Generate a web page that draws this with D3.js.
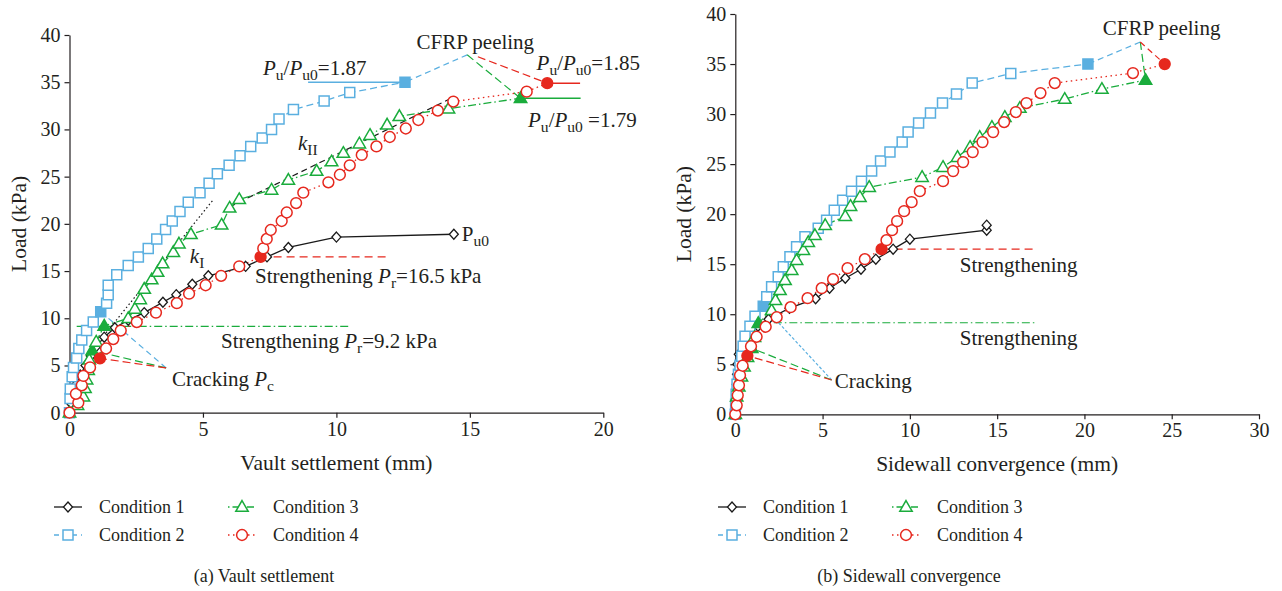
<!DOCTYPE html>
<html>
<head>
<meta charset="utf-8">
<script src="https://cdn.jsdelivr.net/npm/d3@7"></script>
<style>
body { margin: 0; background: #fff; }
text { font-family: "Liberation Serif", "DejaVu Serif", serif; fill: #231f20; }
</style>
</head>
<body>
<svg width="1282" height="591"></svg>
<script>
var conditions = ["Condition 1", "Condition 2", "Condition 3", "Condition 4"];
var loadTicks = [0, 5, 10, 15, 20, 25, 30, 35, 40];
var vaultTicks = [0, 5, 10, 15, 20];
var convTicks = [0, 5, 10, 15, 20, 25, 30];

// (a) vault settlement (mm) vs load (kPa)
var vault1 = [[0,0],[0.05,1],[0.1,2],[0.25,3],[0.4,4],[0.6,5],[0.8,6],[1.0,7],[1.3,8],[1.7,9],[2.2,9.8],[2.8,10.6],[3.5,11.7],[4.0,12.5],[4.6,13.6],[5.2,14.5],[6.6,15.5],[7.4,16.5],[8.2,17.5],[10.0,18.6],[14.4,18.9]];
var vault2 = [[0,0],[0.02,1.5],[0.03,2.5],[0.1,3.8],[0.15,4.8],[0.27,5.8],[0.35,6.8],[0.46,7.7],[0.64,8.7],[0.89,9.6],[1.17,10.7],[1.39,11.6],[1.45,12.5],[1.45,13.5],[1.77,14.6],[2.2,15.6],[2.58,16.5],[2.95,17.4],[3.27,18.4],[3.6,19.4],[3.85,20.3],[4.14,21.3],[4.45,22.3],[4.89,23.3],[5.23,24.3],[5.54,25.3],[5.98,26.2],[6.39,27.2],[6.79,28.2],[7.22,29.1],[7.57,30.0],[7.85,31.1],[8.39,32.1],[9.54,33.0],[10.5,33.9],[12.57,35.0]];
var vault3 = [[0,0],[0.3,0.8],[0.52,1.7],[0.58,2.6],[0.64,3.5],[0.7,4.5],[0.74,5.6],[0.85,6.6],[1.0,7.5],[1.3,9.2],[2.2,10.0],[2.45,11.0],[2.65,12.0],[2.8,13.1],[3.08,14.1],[3.3,14.9],[3.49,15.8],[3.89,17.0],[4.1,17.9],[4.55,18.9],[5.7,19.9],[6.0,21.7],[6.36,22.6],[7.57,23.6],[8.2,24.65],[9.26,25.6],[9.82,26.6],[10.26,27.5],[10.86,28.5],[11.26,29.4],[11.9,30.5],[12.36,31.4],[14.2,32.2],[16.9,33.3]];
var vault4 = [[0,0],[0.33,1.06],[0.24,2.0],[0.46,2.9],[0.52,3.9],[0.77,4.8],[1.14,5.76],[1.37,6.8],[1.64,7.8],[1.92,8.7],[2.52,9.6],[3.24,10.6],[4.02,11.6],[4.48,12.6],[5.1,13.5],[5.68,14.5],[6.36,15.5],[7.16,16.5],[7.26,17.4],[7.39,18.4],[7.54,19.35],[7.95,20.3],[8.14,21.2],[8.49,22.2],[8.76,23.3],[9.7,24.4],[10.13,25.2],[10.5,26.2],[10.95,27.3],[11.5,28.2],[12.0,29.2],[12.6,30.1],[13.07,31.0],[13.8,32.0],[14.38,32.95],[17.13,34.0],[17.9,34.9]];
// index of filled (key) points in each series, -1 = last point
var vaultKey = [[], [10, -1], [7, 9, -1], [6, 17, -1]];

// (b) sidewall convergence (mm) vs load (kPa)
var conv1 = [[0,0],[0.02,1],[0.05,2],[0.08,3],[0.1,4],[0.12,5],[0.2,6],[0.5,7],[0.9,8.2],[1.3,8.8],[1.9,9.5],[3.1,10.6],[4.6,11.55],[5.4,12.6],[6.3,13.6],[7.2,14.5],[8.05,15.5],[9.04,16.5],[10.0,17.5],[14.4,18.4],[14.4,18.9]];
var conv2 = [[0,0],[0.02,1],[0.05,2],[0.1,3],[0.18,4],[0.27,4.9],[0.37,5.8],[0.45,6.8],[0.56,7.8],[0.84,8.8],[1.13,9.8],[1.6,10.8],[1.8,11.75],[2.08,12.75],[2.46,13.75],[2.75,14.75],[3.13,15.75],[3.51,16.75],[3.99,17.75],[4.75,18.6],[5.23,19.4],[5.67,20.4],[6.15,21.4],[6.66,22.3],[7.23,23.3],[7.81,24.3],[8.32,25.3],[8.86,26.2],[9.56,27.2],[9.9,28.2],[10.5,29.1],[11.18,30.1],[11.87,31.1],[12.67,32.0],[13.57,33.1],[15.78,34.06],[20.2,35.0]];
var conv3 = [[0,0],[0.08,1.75],[0.2,2.75],[0.35,3.75],[0.5,4.75],[0.7,5.7],[0.94,6.6],[1.1,7.7],[1.32,9.1],[2.08,10.4],[2.3,11.4],[2.56,12.4],[2.85,13.4],[3.23,14.4],[3.51,15.4],[3.9,16.4],[4.18,17.2],[4.56,17.9],[5.15,18.9],[6.3,19.8],[6.6,20.8],[7.14,21.7],[7.67,22.7],[10.7,23.7],[11.9,24.7],[12.73,25.7],[13.45,26.7],[14.0,27.7],[14.7,28.7],[15.44,29.7],[16.3,30.6],[18.87,31.5],[21.0,32.5],[23.5,33.4]];
var conv4 = [[0,0],[0.08,0.9],[0.14,1.9],[0.21,2.9],[0.27,3.9],[0.42,4.85],[0.69,5.85],[0.9,6.8],[1.22,7.75],[1.74,8.75],[2.37,9.7],[3.17,10.7],[4.14,11.6],[4.95,12.6],[5.6,13.5],[6.43,14.6],[7.42,15.5],[8.38,16.5],[8.66,17.4],[8.98,18.4],[9.27,19.3],[9.67,20.3],[10.1,21.2],[10.57,22.3],[11.9,23.3],[12.48,24.3],[13.05,25.2],[13.6,26.2],[14.16,27.2],[14.77,28.2],[15.4,29.2],[16.07,30.2],[16.68,31.1],[17.48,32.1],[18.3,33.1],[22.78,34.1],[24.6,35.0]];
var convKey = [[], [11, -1], [6, 8, -1], [6, 17, -1]];

var colors = ["#1a1a1a", "#5aafe0", "#1aac3c", "#e6281e"];
var dashes = [null, "7,4", "8,3,1.5,3", "1.5,3.5"];
var legendDashes = [null, "5,4", "1.5,3,7,3", "1.5,3.5"];
var shapes = ["diamond", "square", "triangle", "circle"];

var svg = d3.select("svg");

function markerPath(shape) {
  if (shape == "diamond") return "M0,-5L4.5,0L0,5L-4.5,0Z";
  if (shape == "square") return "M-5,-5h10v10h-10Z";
  if (shape == "triangle") return "M0,-6.4L6.2,4.3L-6.2,4.3Z";
  return "M5.4,0A5.4,5.4 0 1,1 -5.4,0A5.4,5.4 0 1,1 5.4,0Z";
}

// text with italic / subscript parts
function rich(g, px, py, parts, size) {
  size = size || 21;
  var t = g.append("text").attr("x", px).attr("y", py).attr("font-size", size);
  var shift = 0;
  parts.forEach(function(p) {
    var s = t.append("tspan").text(p[0]);
    var sub = p[1].indexOf("s") >= 0;
    var want = sub ? 5 : 0;
    if (want != shift) { s.attr("dy", want - shift); shift = want; }
    if (sub) s.attr("font-size", size * 0.74);
    if (p[1].indexOf("i") >= 0) s.attr("font-style", "italic");
  });
  return t;
}

function panel(o) {
  var x = d3.scaleLinear().domain([0, o.xTicks[o.xTicks.length - 1]]).range([o.left, o.right]);
  var y = d3.scaleLinear().domain([0, 40]).range([o.bottom, o.top]);
  var g = svg.append("g");
  var line = d3.line().x(function(d) { return x(d[0]); }).y(function(d) { return y(d[1]); });

  g.append("g")
      .attr("transform", "translate(0," + o.bottom + ")")
      .call(d3.axisBottom(x).tickValues(o.xTicks).tickSize(5).tickSizeOuter(0).tickPadding(4));
  g.append("g")
      .attr("transform", "translate(" + o.left + ",0)")
      .call(d3.axisLeft(y).tickValues(loadTicks).tickSize(5).tickSizeOuter(0).tickPadding(4));
  g.selectAll(".tick text").attr("font-size", 20).style("fill", "#231f20");
  g.selectAll(".domain, .tick line").attr("stroke", "#231f20").attr("stroke-width", 1.2);
  g.selectAll("g").attr("font-family", null);

  g.append("text")
      .attr("transform", "translate(" + (o.left - 44) + "," + y(20) + ") rotate(-90)")
      .attr("text-anchor", "middle")
      .attr("font-size", 21.5)
      .text("Load (kPa)");
  g.append("text")
      .attr("x", (o.left + o.right) / 2)
      .attr("y", o.bottom + 57)
      .attr("text-anchor", "middle")
      .attr("font-size", 21.5)
      .text(o.xTitle);

  // annotation lines
  o.guides.forEach(function(a) {
    g.append("path")
        .attr("d", line(a.pts))
        .attr("fill", "none")
        .attr("stroke", a.color)
        .attr("stroke-width", a.width || 1.2)
        .attr("stroke-dasharray", a.dash);
  });

  o.series.forEach(function(s, i) {
    g.append("path")
        .datum(s)
        .attr("d", line)
        .attr("fill", "none")
        .attr("stroke", colors[i])
        .attr("stroke-width", 1.3)
        .attr("stroke-dasharray", dashes[i]);
  });
  o.series.forEach(function(s, i) {
    var keys = o.keys[i].map(function(k) { return k < 0 ? s.length + k : k; });
    g.selectAll(null)
      .data(s)
      .enter().append("path")
        .attr("transform", function(d) { return "translate(" + x(d[0]) + "," + y(d[1]) + ")"; })
        .attr("d", markerPath(shapes[i]))
        .attr("fill", function(d, j) { return keys.indexOf(j) >= 0 ? colors[i] : "#fff"; })
        .attr("stroke", colors[i])
        .attr("stroke-width", i == 0 ? 1.3 : 1.5);
  });

  o.labels.forEach(function(l) {
    rich(g, x(l.at[0]), y(l.at[1]), l.parts);
  });

  // legend, two columns of two rows
  var leg = g.append("g");
  conditions.forEach(function(c, i) {
    var lx = o.legendX[Math.floor(i / 2)];
    var ly = 507 + (i % 2) * 28;
    leg.append("line")
        .attr("x1", lx).attr("x2", lx + 28).attr("y1", ly).attr("y2", ly)
        .attr("stroke", colors[i]).attr("stroke-width", 1.3)
        .attr("stroke-dasharray", legendDashes[i]);
    leg.append("path")
        .attr("transform", "translate(" + (lx + 14) + "," + ly + ")")
        .attr("d", markerPath(shapes[i]))
        .attr("fill", "#fff")
        .attr("stroke", colors[i])
        .attr("stroke-width", i == 0 ? 1.3 : 1.5);
    leg.append("text")
        .attr("x", lx + 45).attr("y", ly + 6)
        .attr("font-size", 18)
        .text(c);
  });

  g.append("text")
      .attr("x", o.captionX)
      .attr("y", 582)
      .attr("text-anchor", "middle")
      .attr("font-size", 18)
      .text(o.caption);
}

var apexA = [14.9, 37.9];
panel({
  left: 69.5, right: 603.3, top: 35, bottom: 412.7,
  xTicks: vaultTicks, xTitle: "Vault settlement (mm)",
  caption: "(a) Vault settlement", captionX: 264,
  legendX: [54, 228],
  series: [vault1, vault2, vault3, vault4], keys: vaultKey,
  guides: [
    {pts: [[6.0, 21.8], [14.44, 33.5]], color: "#1a1a1a", dash: "6,4"},
    {pts: [[0.9, 6.8], [5.4, 22.6]], color: "#1a1a1a", dash: "1.5,2.5"},
    {pts: [[7.16, 16.5], [11.9, 16.5]], color: "#e6281e", dash: "8,5"},
    {pts: [[0.27, 9.15], [10.45, 9.15]], color: "#1aac3c", dash: "8,3,1.5,3"},
    {pts: [[3.62, 4.74], [1.17, 10.7]], color: "#5aafe0", dash: "6,4"},
    {pts: [[3.62, 4.74], [0.85, 6.6]], color: "#1aac3c", dash: "8,4"},
    {pts: [[3.62, 4.74], [1.14, 5.76]], color: "#e6281e", dash: "8,4"},
    {pts: [apexA, [12.57, 35.0]], color: "#5aafe0", dash: "6,4"},
    {pts: [apexA, [16.9, 33.3]], color: "#1aac3c", dash: "8,4"},
    {pts: [[15.3, 37.7], [17.9, 34.9]], color: "#e6281e", dash: "8,4"},
    {pts: [[8.94, 35.0], [12.57, 35.0]], color: "#5aafe0", dash: null, width: 1.5},
    {pts: [[17.9, 34.9], [19.13, 34.9]], color: "#e6281e", dash: null, width: 1.5},
    {pts: [[16.9, 33.3], [19.15, 33.3]], color: "#1aac3c", dash: null, width: 1.5}
  ],
  labels: [
    {at: [13.0, 38.5], parts: [["CFRP peeling", ""]]},
    {at: [7.25, 35.8], parts: [["P", "i"], ["u", "s"], ["/", ""], ["P", "i"], ["u0", "s"], ["=1.87", ""]]},
    {at: [17.5, 36.3], parts: [["P", "i"], ["u", "s"], ["/", ""], ["P", "i"], ["u0", "s"], ["=1.85", ""]]},
    {at: [17.18, 30.3], parts: [["P", "i"], ["u", "s"], ["/", ""], ["P", "i"], ["u0", "s"], [" =1.79", ""]]},
    {at: [8.56, 27.85], parts: [["k", "i"], ["II", "s"]]},
    {at: [4.51, 15.9], parts: [["k", "i"], ["I", "s"]]},
    {at: [14.7, 18.2], parts: [["P", ""], ["u0", "s"]]},
    {at: [6.95, 13.75], parts: [["Strengthening ", ""], ["P", "i"], ["r", "s"], ["=16.5 kPa", ""]]},
    {at: [5.68, 6.85], parts: [["Strengthening ", ""], ["P", "i"], ["r", "s"], ["=9.2 kPa", ""]]},
    {at: [3.84, 2.83], parts: [["Cracking ", ""], ["P", "i"], ["c", "s"]]}
  ]
});

var apexB = [23.2, 37.2];
panel({
  left: 735.3, right: 1259, top: 14, bottom: 414.3,
  xTicks: convTicks, xTitle: "Sidewall convergence (mm)",
  caption: "(b) Sidewall convergence", captionX: 909,
  legendX: [718, 892],
  series: [conv1, conv2, conv3, conv4], keys: convKey,
  guides: [
    {pts: [[8.38, 16.5], [17.25, 16.5]], color: "#e6281e", dash: "8,5"},
    {pts: [[1.32, 9.15], [17.15, 9.15]], color: "#1aac3c", dash: "8,3,1.5,3"},
    {pts: [[5.52, 3.43], [1.6, 10.8]], color: "#5aafe0", dash: "3,2"},
    {pts: [[5.52, 3.43], [0.94, 6.6]], color: "#1aac3c", dash: "8,4"},
    {pts: [[5.52, 3.43], [0.69, 5.85]], color: "#e6281e", dash: "8,4"},
    {pts: [apexB, [20.2, 35.0]], color: "#5aafe0", dash: "6,4"},
    {pts: [apexB, [23.5, 33.4]], color: "#1aac3c", dash: "8,4"},
    {pts: [apexB, [24.6, 35.0]], color: "#e6281e", dash: "6,4"}
  ],
  labels: [
    {at: [21.05, 37.9], parts: [["CFRP peeling", ""]]},
    {at: [12.86, 14.2], parts: [["Strengthening", ""]]},
    {at: [12.86, 6.9], parts: [["Strengthening", ""]]},
    {at: [5.7, 2.6], parts: [["Cracking", ""]]}
  ]
});
</script>
</body>
</html>
